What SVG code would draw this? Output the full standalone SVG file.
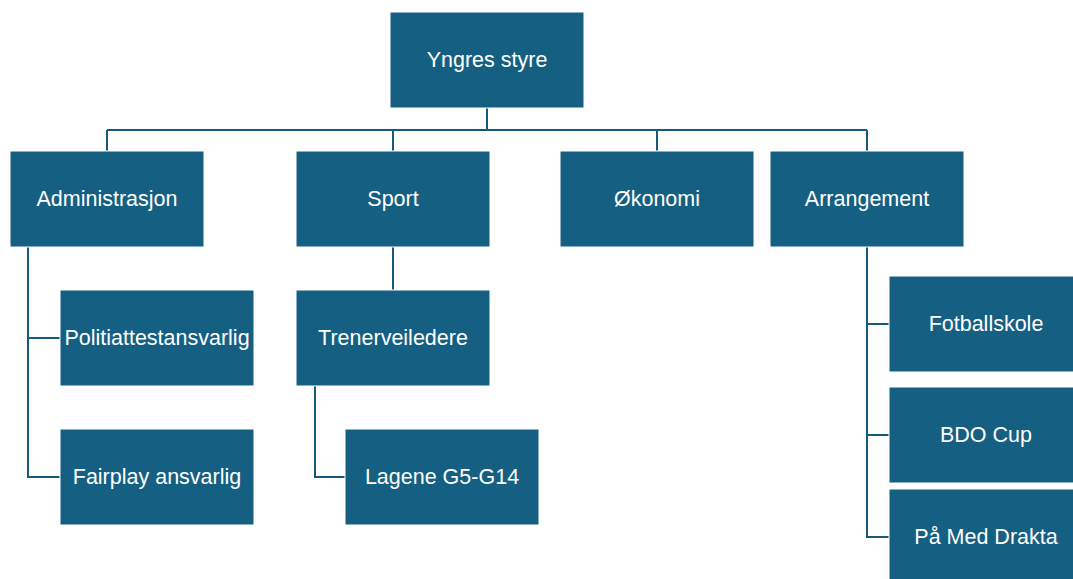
<svg xmlns="http://www.w3.org/2000/svg" width="1073" height="579" viewBox="0 0 1073 579">
<style>
.box{fill:#156082;stroke:#ffffff;stroke-width:1}
.lbl{font-family:"Liberation Sans",Arial,sans-serif;font-size:21.5px;fill:#ffffff;text-anchor:middle}
.conn{fill:none;stroke:#155a7a;stroke-width:2}
</style>
<rect width="1073" height="579" fill="#ffffff"/>
<g id="connectors">
<path class="conn" d="M487,108 V130 M107,130 H867 M107,130 V152 M393,130 V152 M657,130 V152 M867,130 V152"/>
<path class="conn" d="M28,247 V477 H60 M28,338 H60"/>
<path class="conn" d="M393,247 V291"/>
<path class="conn" d="M315,386 V477 H345"/>
<path class="conn" d="M867,247 V537 H889 M867,324 H889 M867,435 H889"/>
</g>
<g id="yngres-styre"><rect class="box" x="390" y="12" width="194" height="96"/><text class="lbl" x="487" y="67">Yngres styre</text></g>
<g id="administrasjon"><rect class="box" x="10" y="151" width="194" height="96"/><text class="lbl" x="107" y="206">Administrasjon</text></g>
<g id="sport"><rect class="box" x="296" y="151" width="194" height="96"/><text class="lbl" x="393" y="206">Sport</text></g>
<g id="okonomi"><rect class="box" x="560" y="151" width="194" height="96"/><text class="lbl" x="657" y="206">Økonomi</text></g>
<g id="arrangement"><rect class="box" x="770" y="151" width="194" height="96"/><text class="lbl" x="867" y="206">Arrangement</text></g>
<g id="politiattestansvarlig"><rect class="box" x="60" y="290" width="194" height="96"/><text class="lbl" x="157" y="345">Politiattestansvarlig</text></g>
<g id="fairplay"><rect class="box" x="60" y="429" width="194" height="96"/><text class="lbl" x="157" y="484">Fairplay ansvarlig</text></g>
<g id="trenerveiledere"><rect class="box" x="296" y="290" width="194" height="96"/><text class="lbl" x="393" y="345">Trenerveiledere</text></g>
<g id="lagene"><rect class="box" x="345" y="429" width="194" height="96"/><text class="lbl" x="442" y="484">Lagene G5-G14</text></g>
<g id="fotballskole"><rect class="box" x="889" y="276" width="194" height="96"/><text class="lbl" x="986" y="331">Fotballskole</text></g>
<g id="bdo-cup"><rect class="box" x="889" y="387" width="194" height="96"/><text class="lbl" x="986" y="442">BDO Cup</text></g>
<g id="pa-med-drakta"><rect class="box" x="889" y="489" width="194" height="96"/><text class="lbl" x="986" y="544">På Med Drakta</text></g>
</svg>
